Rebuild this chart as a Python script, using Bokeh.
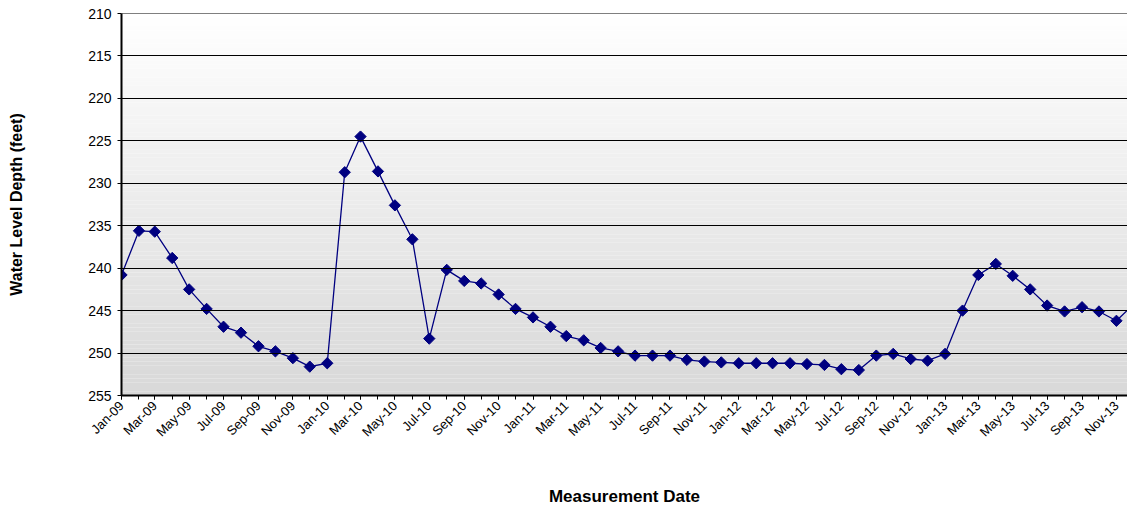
import numpy as np
import pandas as pd
from bokeh.plotting import figure
from bokeh.models import Range1d, FixedTicker, DatetimeTickFormatter, BoxAnnotation, ColumnDataSource, Span
from bokeh.embed import file_html
from bokeh.resources import INLINE

# ---- data ----
dates = pd.date_range("2009-01-01", periods=60, freq="MS")
depth_2009 = [240.8, 235.6, 235.7, 238.8, 242.5, 244.8, 246.9, 247.6, 249.2, 249.8, 250.6, 251.6]
depth_2010 = [251.2, 228.7, 224.5, 228.6, 232.6, 236.6, 248.3, 240.2, 241.5, 241.8, 243.1, 244.8]
depth_2011 = [245.8, 246.9, 248.0, 248.5, 249.4, 249.8, 250.3, 250.3, 250.3, 250.8, 251.0, 251.1]
depth_2012 = [251.2, 251.2, 251.2, 251.2, 251.3, 251.4, 251.9, 252.0, 250.3, 250.1, 250.7, 250.9]
depth_2013 = [250.1, 245.0, 240.8, 239.5, 240.9, 242.5, 244.4, 245.1, 244.6, 245.1, 246.2, 244.3]
depth = depth_2009 + depth_2010 + depth_2011 + depth_2012 + depth_2013
y_ticks = [210, 215, 220, 225, 230, 235, 240, 245, 250, 255]

src = ColumnDataSource(dict(x=dates, y=depth))

W, H = 1127, 508
frame_left = 121
px_per_day = 0.5637
days_visible = (W - frame_left) / px_per_day
x_start = dates[0]
x_end = x_start + pd.Timedelta(days=days_visible)

p = figure(width=W, height=H, output_backend="svg", toolbar_location=None,
           x_axis_type="datetime",
           x_range=Range1d(x_start, x_end), y_range=Range1d(255, 210),
           min_border_left=frame_left, min_border_right=0,
           min_border_top=13, min_border_bottom=112)
p.outline_line_color = None
p.background_fill_color = "white"
p.border_fill_color = "white"

# gradient background (decoration)
n_bands = 90
edges = np.linspace(210, 255, n_bands + 1)
for i in range(n_bands):
    t = (i + 0.5) / n_bands
    c = int(round(255 - t * (255 - 216)))
    p.add_layout(BoxAnnotation(top=edges[i], bottom=edges[i + 1],
                               fill_color=f"#{c:02x}{c:02x}{c:02x}", fill_alpha=1.0,
                               line_color=None, level="underlay"))

# top border line of the plot area (at the 210 gridline)
p.add_layout(Span(location=y_ticks[0], dimension="width", line_color="black", line_width=1))

p.line("x", "y", source=src, line_color="#000080", line_width=1.3)
p.scatter("x", "y", source=src, marker="square", angle=np.pi / 4, size=8,
          fill_color="#000080", line_color="#000080")

# axes
major = [d.value / 1e6 for d in dates[::2]]
minor = [d.value / 1e6 for d in dates]
p.xaxis.ticker = FixedTicker(ticks=major, minor_ticks=minor)
fmt = "%b-%y"
p.xaxis.formatter = DatetimeTickFormatter(milliseconds=fmt, seconds=fmt, minsec=fmt, minutes=fmt,
                                          hourmin=fmt, hours=fmt, days=fmt, months=fmt, years=fmt)
p.xaxis.major_label_orientation = np.pi / 4
p.yaxis.ticker = FixedTicker(ticks=y_ticks, minor_ticks=[])

for ax in (p.xaxis[0], p.yaxis[0]):
    ax.axis_line_color = "black"
    ax.axis_line_width = 2
    ax.major_tick_line_color = "black"
    ax.minor_tick_line_color = "black"
    ax.major_tick_in = 0
    ax.major_tick_out = 4
    ax.minor_tick_in = 0
    ax.minor_tick_out = 4
    ax.major_label_text_font = "Liberation Sans"
    ax.major_label_text_color = "black"
    ax.axis_label_text_font = "Liberation Sans"
    ax.axis_label_text_font_style = "bold"
    ax.axis_label_text_color = "black"

p.xaxis.major_label_text_font_size = "13px"
p.yaxis.major_label_text_font_size = "14px"
p.xaxis.axis_label = "Measurement Date"
p.yaxis.axis_label = "Water Level Depth (feet)"
p.xaxis.axis_label_text_font_size = "17px"
p.yaxis.axis_label_text_font_size = "16px"
p.xaxis.major_label_standoff = 4
p.yaxis.major_label_standoff = 6
p.xaxis.axis_label_standoff = 39
p.yaxis.axis_label_standoff = 60

p.xgrid.grid_line_color = None
p.ygrid.grid_line_color = "black"
p.ygrid.grid_line_width = 1
p.ygrid.level = "glyph"

open("out.html", "w").write(file_html(p, INLINE))
